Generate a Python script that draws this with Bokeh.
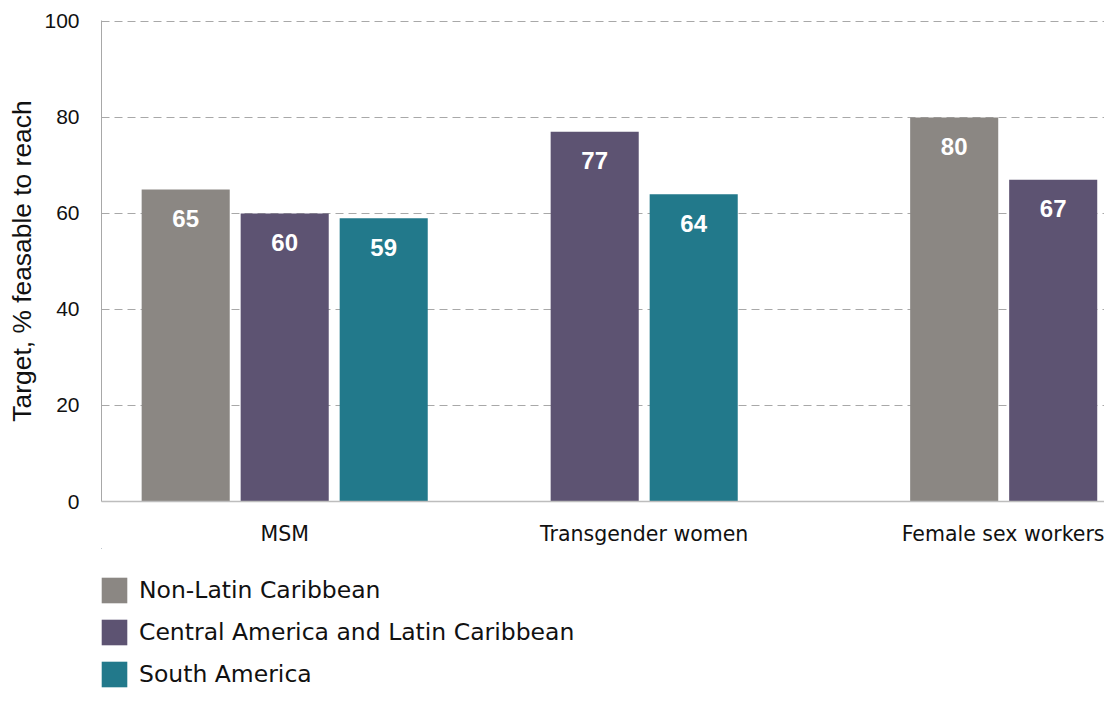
from bokeh.plotting import figure
from bokeh.layouts import column
from bokeh.models import ColumnDataSource, FixedTicker, Legend, LegendItem, Range1d
from bokeh.core.properties import value
from bokeh.embed import file_html
from bokeh.resources import INLINE

categories = ["MSM", "Transgender women", "Female sex workers"]
series_names = ["Non-Latin Caribbean", "Central America and Latin Caribbean", "South America"]
non_latin_caribbean = [65, None, 80]
central_america_latin_caribbean = [60, 77, 67]
south_america = [59, 64, None]
series_values = [non_latin_caribbean, central_america_latin_caribbean, south_america]
colors = ["#8b8783", "#5d5372", "#22798b"]
y_ticks = [0, 20, 40, 60, 80, 100]

STEP = 0.2754
WIDTH = 0.245

p = figure(width=1104, height=548, output_backend="svg", toolbar_location=None,
           x_range=Range1d(-0.0096, 2.7804), y_range=Range1d(0, 100.2),
           min_border_left=101, min_border_right=0, min_border_top=20, min_border_bottom=40)
p.outline_line_color = None
p.background_fill_color = "white"

sources = []
for s, (name, vals, col) in enumerate(zip(series_names, series_values, colors)):
    xs, tops, labels = [], [], []
    for i, cat in enumerate(categories):
        present = [k for k in range(len(series_values)) if series_values[k][i] is not None]
        if vals[i] is None:
            continue
        k = present.index(s)
        off = (k - (len(present) - 1) / 2) * STEP
        xs.append(i + 0.5 + off)
        tops.append(vals[i])
        labels.append(str(vals[i]))
    src = ColumnDataSource(dict(x=xs, top=tops, label=labels))
    sources.append(src)
    p.vbar(x="x", top="top", width=WIDTH, bottom=0, source=src, fill_color=col, line_color=None)
    p.text(x="x", y="top", text="label", source=src, text_color="white",
           text_font=value("Liberation Sans"), text_font_style="bold", text_font_size="24px",
           text_align="center", text_baseline="middle", y_offset=29)

# axes
p.xaxis.ticker = FixedTicker(ticks=[0.5, 1.5, 2.5])
p.xaxis.major_label_overrides = {0.5: categories[0], 1.5: categories[1], 2.5: categories[2]}
p.xaxis.major_tick_line_color = None
p.xaxis.minor_tick_line_color = None
p.xaxis.axis_line_color = "#bdbdbd"
p.xaxis.axis_line_width = 1.5
p.xaxis.major_label_text_font = "DejaVu Sans"
p.xaxis.major_label_text_font_size = "20.5px"
p.xaxis.major_label_text_color = "#111111"
p.xaxis.major_label_standoff = 14

p.yaxis.ticker = FixedTicker(ticks=y_ticks)
p.yaxis.major_tick_line_color = None
p.yaxis.minor_tick_line_color = None
p.yaxis.axis_line_color = "#a8a8a8"
p.yaxis.major_label_text_font = "Liberation Sans"
p.yaxis.major_label_text_font_size = "21px"
p.yaxis.major_label_text_color = "#111111"
p.yaxis.major_label_standoff = 16
p.yaxis.axis_label = "Target, % feasable to reach"
p.yaxis.axis_label_text_font = "Liberation Sans"
p.yaxis.axis_label_text_font_style = "normal"
p.yaxis.axis_label_text_font_size = "26.4px"
p.yaxis.axis_label_text_color = "#111111"
p.yaxis.axis_label_standoff = 4

p.xgrid.grid_line_color = None
p.ygrid.grid_line_color = "#a8a8a8"
p.ygrid.grid_line_dash = "8 5"
p.ygrid.grid_line_width = 1.2

# legend panel (bars reuse the data but lie outside this panel's ranges)
lg = figure(width=1104, height=142, output_backend="svg", toolbar_location=None,
            x_range=Range1d(10, 11), y_range=Range1d(-200, -100),
            min_border_left=0, min_border_right=0, min_border_top=0, min_border_bottom=0)
lg.axis.visible = False
lg.grid.visible = False
lg.outline_line_color = None
items = []
for name, col, src in zip(series_names, colors, sources):
    r = lg.vbar(x="x", top="top", bottom=0, width=WIDTH, source=src, fill_color=col, line_color=None)
    items.append(LegendItem(label=name, renderers=[r], index=0))

legend = Legend(items=items, location=(-3, 0), orientation="vertical",
                glyph_width=32, glyph_height=32, label_height=32, spacing=10,
                label_standoff=9, padding=0, margin=0,
                border_line_color=None, background_fill_alpha=0,
                label_text_font="DejaVu Sans", label_text_font_size="23.5px",
                label_text_color="#111111")
lg.add_layout(legend, "center")

layout = column(p, lg, spacing=0)
open("out.html", "w").write(file_html(layout, INLINE))
